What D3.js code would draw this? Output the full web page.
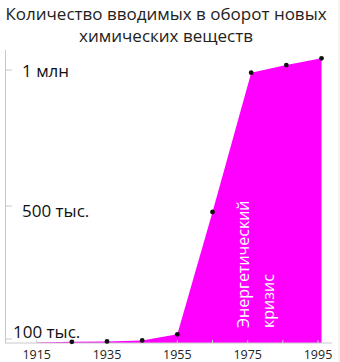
<!DOCTYPE html>
<html>
<head>
<meta charset="utf-8">
<script src="https://cdn.jsdelivr.net/npm/d3@7"></script>
<style>
  body { margin: 0; background: #fff; }
  svg { display: block; font-family: "Open Sans", sans-serif; }
</style>
</head>
<body>
<svg width="340" height="362"></svg>
<script>
// data
const years = [1915, 1925, 1935, 1945, 1955, 1965, 1976, 1986, 1996];
const counts = [10000, 30000, 40000, 65000, 114000, 482000, 990000, 1018000, 1043000];
const yTicks = [1000000, 500000, 100000];
const yTickLabels = ["1 млн", "500 тыс.", "100 тыс."];
const xTicks = [1915, 1935, 1955, 1975, 1995];
const titleLines = ["Количество вводимых в оборот новых", "химических веществ"];
const noteLines = ["Энергетический", "кризис"];

const data = years.map((y, i) => ({ year: y, value: counts[i] }));

const svg = d3.select("svg");

// the original axis is not linear, so use a piecewise scale
const x = d3.scaleLinear().domain([1915, 1995]).range([36.7, 318]);
const y = d3.scaleLinear()
    .domain([0, 100000, 500000, 1000000])
    .range([343, 339, 206, 70]);

// faint border on the right
svg.append("line")
    .attr("x1", 339).attr("x2", 339)
    .attr("y1", 0).attr("y2", 362)
    .attr("stroke", "#e6eed6");

// title
svg.append("g")
    .selectAll("text")
    .data(titleLines)
    .join("text")
    .attr("x", 166)
    .attr("y", (d, i) => 13 + i * 22)
    .attr("dominant-baseline", "central")
    .attr("text-anchor", "middle")
    .attr("font-size", 17)
    .attr("fill", "#222")
    .text(d => d);

// area
const area = d3.area()
    .x(d => x(d.year))
    .y0(y(0))
    .y1(d => y(d.value));

svg.append("path")
    .datum(data)
    .attr("fill", "#ff00ff")
    .attr("d", area);

// x axis baseline with small ticks
const xAxis = svg.append("g");
xAxis.append("line")
    .attr("x1", 5).attr("x2", 332)
    .attr("y1", y(0)).attr("y2", y(0))
    .attr("stroke", "#c8c8c8");
xAxis.selectAll(".tick")
    .data(d3.range(1915, 1996, 10))
    .join("line")
    .attr("x1", d => x(d)).attr("x2", d => x(d))
    .attr("y1", y(0) - 3).attr("y2", y(0))
    .attr("stroke", "#cfcfcf");
xAxis.selectAll("text")
    .data(xTicks)
    .join("text")
    .attr("x", d => x(d))
    .attr("y", 354)
    .attr("dominant-baseline", "central")
    .attr("text-anchor", "middle")
    .attr("font-size", 12.5)
    .attr("fill", "#222")
    .text(d => d);

// y axis
const yAxis = svg.append("g");
yAxis.append("line")
    .attr("x1", 5.5).attr("x2", 5.5)
    .attr("y1", 50).attr("y2", y(0))
    .attr("stroke", "#c8c8c8");
yAxis.selectAll("line.tick")
    .data(yTicks)
    .join("line")
    .attr("class", "tick")
    .attr("x1", 5.5).attr("x2", 12)
    .attr("y1", d => y(d)).attr("y2", d => y(d))
    .attr("stroke", "#c8c8c8");
yAxis.selectAll("text")
    .data(yTicks)
    .join("text")
    .attr("x", (d, i) => i === 2 ? 13 : 22)
    .attr("y", (d, i) => y(d) + (i === 2 ? -8 : (i === 1 ? 4 : 0)))
    .attr("dominant-baseline", "central")
    .attr("font-size", 17)
    .attr("fill", "#111")
    .text((d, i) => yTickLabels[i]);

// dots
svg.append("g")
    .selectAll("circle")
    .data(data.slice(1))
    .join("circle")
    .attr("cx", d => x(d.year))
    .attr("cy", d => y(d.value))
    .attr("r", 2.4)
    .attr("fill", "#111");

// rotated note
svg.append("g")
    .attr("transform", "translate(243,328) rotate(-90)")
    .selectAll("text")
    .data(noteLines)
    .join("text")
    .attr("x", 0)
    .attr("y", (d, i) => i * 25)
    .attr("dominant-baseline", "central")
    .attr("font-size", 16)
    .attr("fill", "#fff")
    .text(d => d);
</script>
</body>
</html>
